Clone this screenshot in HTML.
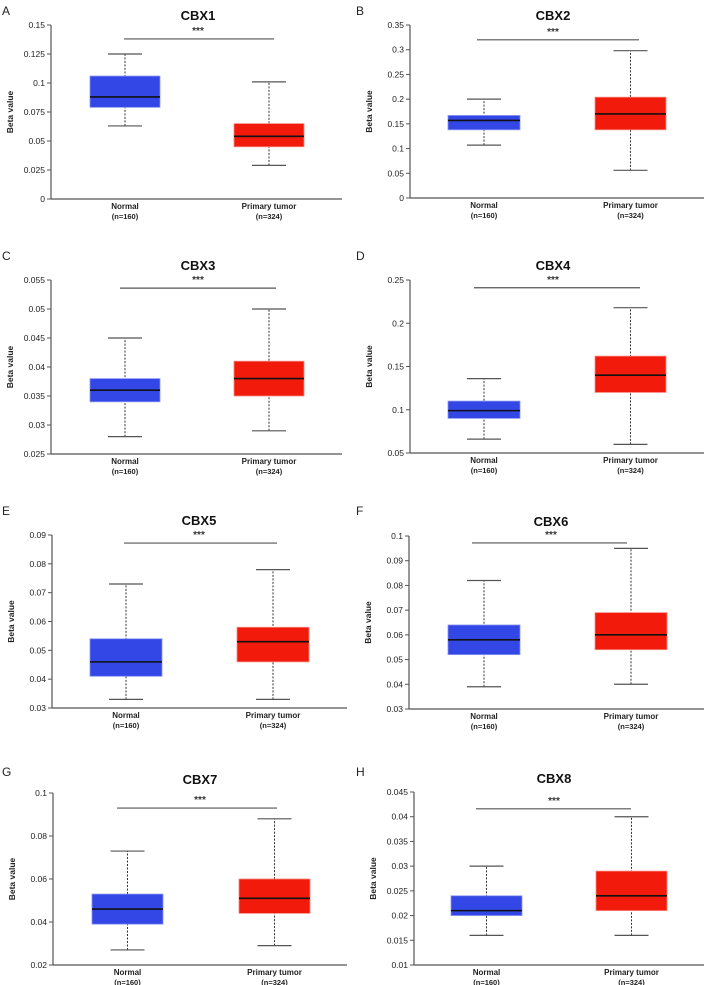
<!DOCTYPE html>
<html><head><meta charset="utf-8"><style>
html,body{margin:0;padding:0;background:#fff;}
svg{display:block;font-family:"Liberation Sans",Arial,sans-serif;}
</style></head><body>
<svg id="fig" width="707" height="985" viewBox="0 0 707 985"></svg>
<script>
const genes = ["CBX1","CBX2","CBX3","CBX4","CBX5","CBX6","CBX7","CBX8"];
const panelLetters = ["A","B","C","D","E","F","G","H"];
const categories = ["Normal","Primary tumor"];
const sampleLabels = ["(n=160)","(n=324)"];
// [min, q1, median, q3, max]
const cbx1Normal = [0.063,0.079,0.088,0.106,0.125];
const cbx1Tumor  = [0.029,0.045,0.054,0.065,0.101];
const cbx2Normal = [0.107,0.138,0.157,0.167,0.200];
const cbx2Tumor  = [0.056,0.138,0.170,0.204,0.298];
const cbx3Normal = [0.028,0.034,0.036,0.038,0.045];
const cbx3Tumor  = [0.029,0.035,0.038,0.041,0.050];
const cbx4Normal = [0.066,0.090,0.099,0.110,0.136];
const cbx4Tumor  = [0.060,0.120,0.140,0.162,0.218];
const cbx5Normal = [0.033,0.041,0.046,0.054,0.073];
const cbx5Tumor  = [0.033,0.046,0.053,0.058,0.078];
const cbx6Normal = [0.039,0.052,0.058,0.064,0.082];
const cbx6Tumor  = [0.040,0.054,0.060,0.069,0.095];
const cbx7Normal = [0.027,0.039,0.046,0.053,0.073];
const cbx7Tumor  = [0.029,0.044,0.051,0.060,0.088];
const cbx8Normal = [0.016,0.020,0.021,0.024,0.030];
const cbx8Tumor  = [0.016,0.021,0.024,0.029,0.040];
const yTicks1 = ["0","0.025","0.05","0.075","0.1","0.125","0.15"];
const yTicks2 = ["0","0.05","0.1","0.15","0.2","0.25","0.3","0.35"];
const yTicks3 = ["0.025","0.03","0.035","0.04","0.045","0.05","0.055"];
const yTicks4 = ["0.05","0.1","0.15","0.2","0.25"];
const yTicks5 = ["0.03","0.04","0.05","0.06","0.07","0.08","0.09"];
const yTicks6 = ["0.03","0.04","0.05","0.06","0.07","0.08","0.09","0.1"];
const yTicks7 = ["0.02","0.04","0.06","0.08","0.1"];
const yTicks8 = ["0.01","0.015","0.02","0.025","0.03","0.035","0.04","0.045"];
const sigBarValues = [0.138,0.320,0.0536,0.241,0.0872,0.0972,0.093,0.0416];

const normals=[cbx1Normal,cbx2Normal,cbx3Normal,cbx4Normal,cbx5Normal,cbx6Normal,cbx7Normal,cbx8Normal];
const tumors=[cbx1Tumor,cbx2Tumor,cbx3Tumor,cbx4Tumor,cbx5Tumor,cbx6Tumor,cbx7Tumor,cbx8Tumor];
const ticks=[yTicks1,yTicks2,yTicks3,yTicks4,yTicks5,yTicks6,yTicks7,yTicks8];
const layout=[
 {ax:51,top:25,bot:199,xe:342,b:[[90,160],[234,304]],bx:[124,274],tx:198,ly:5,tt:5},
 {ax:410,top:25,bot:198,xe:704,b:[[448,520],[595,666]],bx:[477,639],tx:553,ly:5,tt:5},
 {ax:51,top:280,bot:454,xe:342,b:[[90,160],[234,304]],bx:[120,276],tx:198,ly:250,tt:10},
 {ax:410,top:280,bot:453,xe:704,b:[[448,520],[595,666]],bx:[474,640],tx:553,ly:250,tt:10},
 {ax:52,top:535,bot:708,xe:347,b:[[90,162],[237,309]],bx:[124,277],tx:199,ly:505,tt:10},
 {ax:409,top:536,bot:709,xe:704,b:[[448,520],[595,667]],bx:[472,627],tx:551,ly:505,tt:10},
 {ax:53,top:793,bot:965,xe:347,b:[[92,163],[239,310]],bx:[117,277],tx:200,ly:766,tt:9},
 {ax:414,top:792,bot:965,xe:704,b:[[451,522],[596,667]],bx:[476,631],tx:554,ly:766,tt:9}
];
const NS="http://www.w3.org/2000/svg";
const svg=document.getElementById('fig');
function mk(tag,attrs,parent,text){const e=document.createElementNS(NS,tag);for(const k in attrs)e.setAttribute(k,attrs[k]);if(text!==undefined)e.textContent=text;parent.appendChild(e);return e;}
genes.forEach((g,i)=>{
  const L=layout[i], tk=ticks[i];
  const vmin=parseFloat(tk[0]), vmax=parseFloat(tk[tk.length-1]);
  const y=v=>L.bot-(v-vmin)/(vmax-vmin)*(L.bot-L.top);
  const grp=mk('g',{},svg);
  
  
  const letter=mk('text',{x:(i%2?356:2),y:L.ly+10,'font-size':12,fill:'#222'},grp,panelLetters[i]);
  
  
  const t=mk('text',{x:L.tx,y:L.top-L.tt,'font-size':13,'font-weight':'bold','text-anchor':'middle',fill:'#111'},grp,g);
  
  
  const ya=mk('line',{x1:L.ax,y1:L.top,x2:L.ax,y2:L.bot,stroke:'#555','stroke-width':1.2},grp);
  
  
  const xa=mk('line',{x1:L.ax,y1:L.bot,x2:L.xe,y2:L.bot,stroke:'#555','stroke-width':1.2},grp);
  
  
  tk.forEach(s=>{
    const yy=y(parseFloat(s));
    mk('line',{x1:L.ax-4,y1:yy,x2:L.ax,y2:yy,stroke:'#555','stroke-width':1},grp);
    const tl=mk('text',{x:L.ax-6,y:yy+3,'font-size':8.5,'text-anchor':'end',fill:'#222'},grp,s);
    
    
  });
  const mid=(L.top+L.bot)/2;
  const yl=mk('text',{x:0,y:0,'font-size':8.5,'font-weight':'bold','text-anchor':'middle',fill:'#222',transform:`translate(${L.ax-38},${mid}) rotate(-90)`},grp,'Beta value');
  
  
  [normals[i],tumors[i]].forEach((d,j)=>{
    const [l,r]=L.b[j], cx=(l+r)/2, col=j?'#f21a0a':'#3347e6';
    mk('line',{x1:cx,y1:y(d[0]),x2:cx,y2:y(d[4]),stroke:'#333','stroke-width':1,'stroke-dasharray':'2,1.5'},grp);
    [d[0],d[4]].forEach(v=>mk('line',{x1:cx-17,y1:y(v),x2:cx+17,y2:y(v),stroke:'#555','stroke-width':1.2},grp));
    const bx=mk('rect',{x:l,y:y(d[3]),width:r-l,height:y(d[1])-y(d[3]),fill:col,stroke:j?'#f58a80':'#8a96f0','stroke-width':0.8},grp);
    
    
    mk('line',{x1:l,y1:y(d[2]),x2:r,y2:y(d[2]),stroke:'#111','stroke-width':1.6},grp);
    const c1=mk('text',{x:cx,y:L.bot+10,'font-size':8,'font-weight':'bold','text-anchor':'middle',fill:'#222'},grp,categories[j]);
    
    
    const c2=mk('text',{x:cx,y:L.bot+20,'font-size':7.5,'font-weight':'bold','text-anchor':'middle',fill:'#222'},grp,sampleLabels[j]);
    
    
  });
  const by=y(sigBarValues[i]);
  const sb=mk('line',{x1:L.bx[0],y1:by,x2:L.bx[1],y2:by,stroke:'#555','stroke-width':1.2},grp);
  
  
  const st=mk('text',{x:L.tx,y:by-5,'font-size':10,'font-weight':'bold','text-anchor':'middle',fill:'#333'},grp,'***');
  
  
});
</script>
</body></html>
